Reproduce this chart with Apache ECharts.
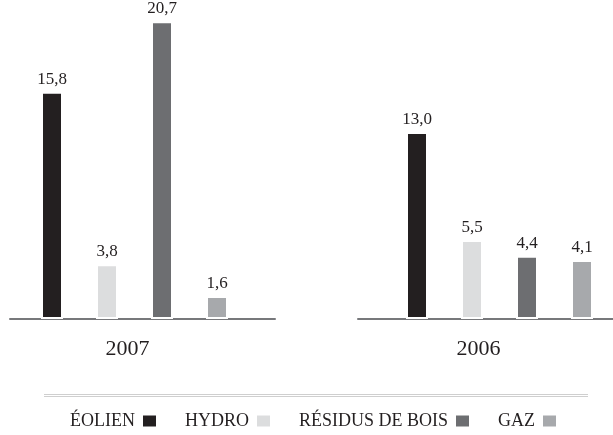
<!DOCTYPE html>
<html>
<head>
<meta charset="utf-8">
<style>
  html, body { margin: 0; padding: 0; background: #fff; }
  #chart { width: 613px; height: 435px; }
</style>
<script src="https://cdn.jsdelivr.net/npm/echarts@6/dist/echarts.min.js"></script>
</head>
<body>
<div id="chart"></div>
<script>
const years = ['2007', '2006'];
const sources = ['ÉOLIEN', 'HYDRO', 'RÉSIDUS DE BOIS', 'GAZ'];
const values2007 = [15.8, 3.8, 20.7, 1.6];
const values2006 = [13.0, 5.5, 4.4, 4.1];
const colors = ['#231f20', '#dcddde', '#6d6e71', '#a7a9ac'];

const font = '"Liberation Serif", "DejaVu Serif", serif';
const ink = '#231f20';
const yMax = 21;

const myChart = echarts.init(document.getElementById('chart'));

// label shift so the year sits where it does in the print layout
const yearPadding = [[0, 14, 0, 0], [0, 42, 0, 0]];

const barGrids = [
  { left: 31, width: 207, top: 17, bottom: 116 },
  { left: 406, width: 187, top: 17, bottom: 116 }
];
const lineGrids = [
  { left: 10, width: 265, top: 17, bottom: 116 },
  { left: 358, width: 255, top: 17, bottom: 116 }
];

const xAxis = [];
const yAxis = [];
years.forEach((y, i) => {
  xAxis.push({
    type: 'category',
    gridIndex: i,
    data: [y],
    axisLine: { show: false },
    axisTick: { show: false },
    axisLabel: {
      margin: 19,
      fontFamily: font,
      fontSize: 22,
      color: ink,
      padding: yearPadding[i]
    }
  });
  yAxis.push({ type: 'value', gridIndex: i, min: 0, max: yMax, show: false });
});
years.forEach((y, i) => {
  xAxis.push({
    type: 'category',
    gridIndex: i + 2,
    data: [''],
    axisLine: { show: true, lineStyle: { color: '#77787b', width: 2 } },
    axisTick: { show: false },
    axisLabel: { show: false }
  });
  yAxis.push({ type: 'value', gridIndex: i + 2, min: 0, max: yMax, show: false });
});

const fmt = v => v.toFixed(1).replace('.', ',');

const series = [];
[values2007, values2006].forEach((vals, g) => {
  sources.forEach((name, k) => {
    series.push({
      type: 'bar',
      name: name,
      xAxisIndex: g,
      yAxisIndex: g,
      data: [vals[k]],
      barWidth: 22,
      barGap: '150%',
      clip: false,
      z: 5,
      itemStyle: { color: colors[k], borderColor: '#fff', borderWidth: 2 },
      label: {
        show: true,
        position: 'top',
        distance: 4,
        formatter: p => fmt(p.value),
        fontFamily: font,
        fontSize: 17,
        color: ink
      }
    });
  });
});

const option = {
  backgroundColor: '#fff',
  animation: false,
  grid: barGrids.concat(lineGrids),
  xAxis: xAxis,
  yAxis: yAxis,
  legend: {
    data: sources,
    left: 65,
    top: 407,
    align: 'right',
    icon: 'rect',
    itemWidth: 13,
    itemHeight: 11,
    itemGap: 29,
    itemStyle: { borderWidth: 0 },
    textStyle: { fontFamily: font, fontSize: 18, color: ink, padding: [0, 3, 0, 0] }
  },
  graphic: [
    { type: 'line', shape: { x1: 44, y1: 394.5, x2: 588, y2: 394.5 }, style: { stroke: '#cfcfcf', lineWidth: 1 } },
    { type: 'line', shape: { x1: 44, y1: 396.5, x2: 588, y2: 396.5 }, style: { stroke: '#cfcfcf', lineWidth: 1 } }
  ],
  series: series
};

myChart.setOption(option);
</script>
</body>
</html>
